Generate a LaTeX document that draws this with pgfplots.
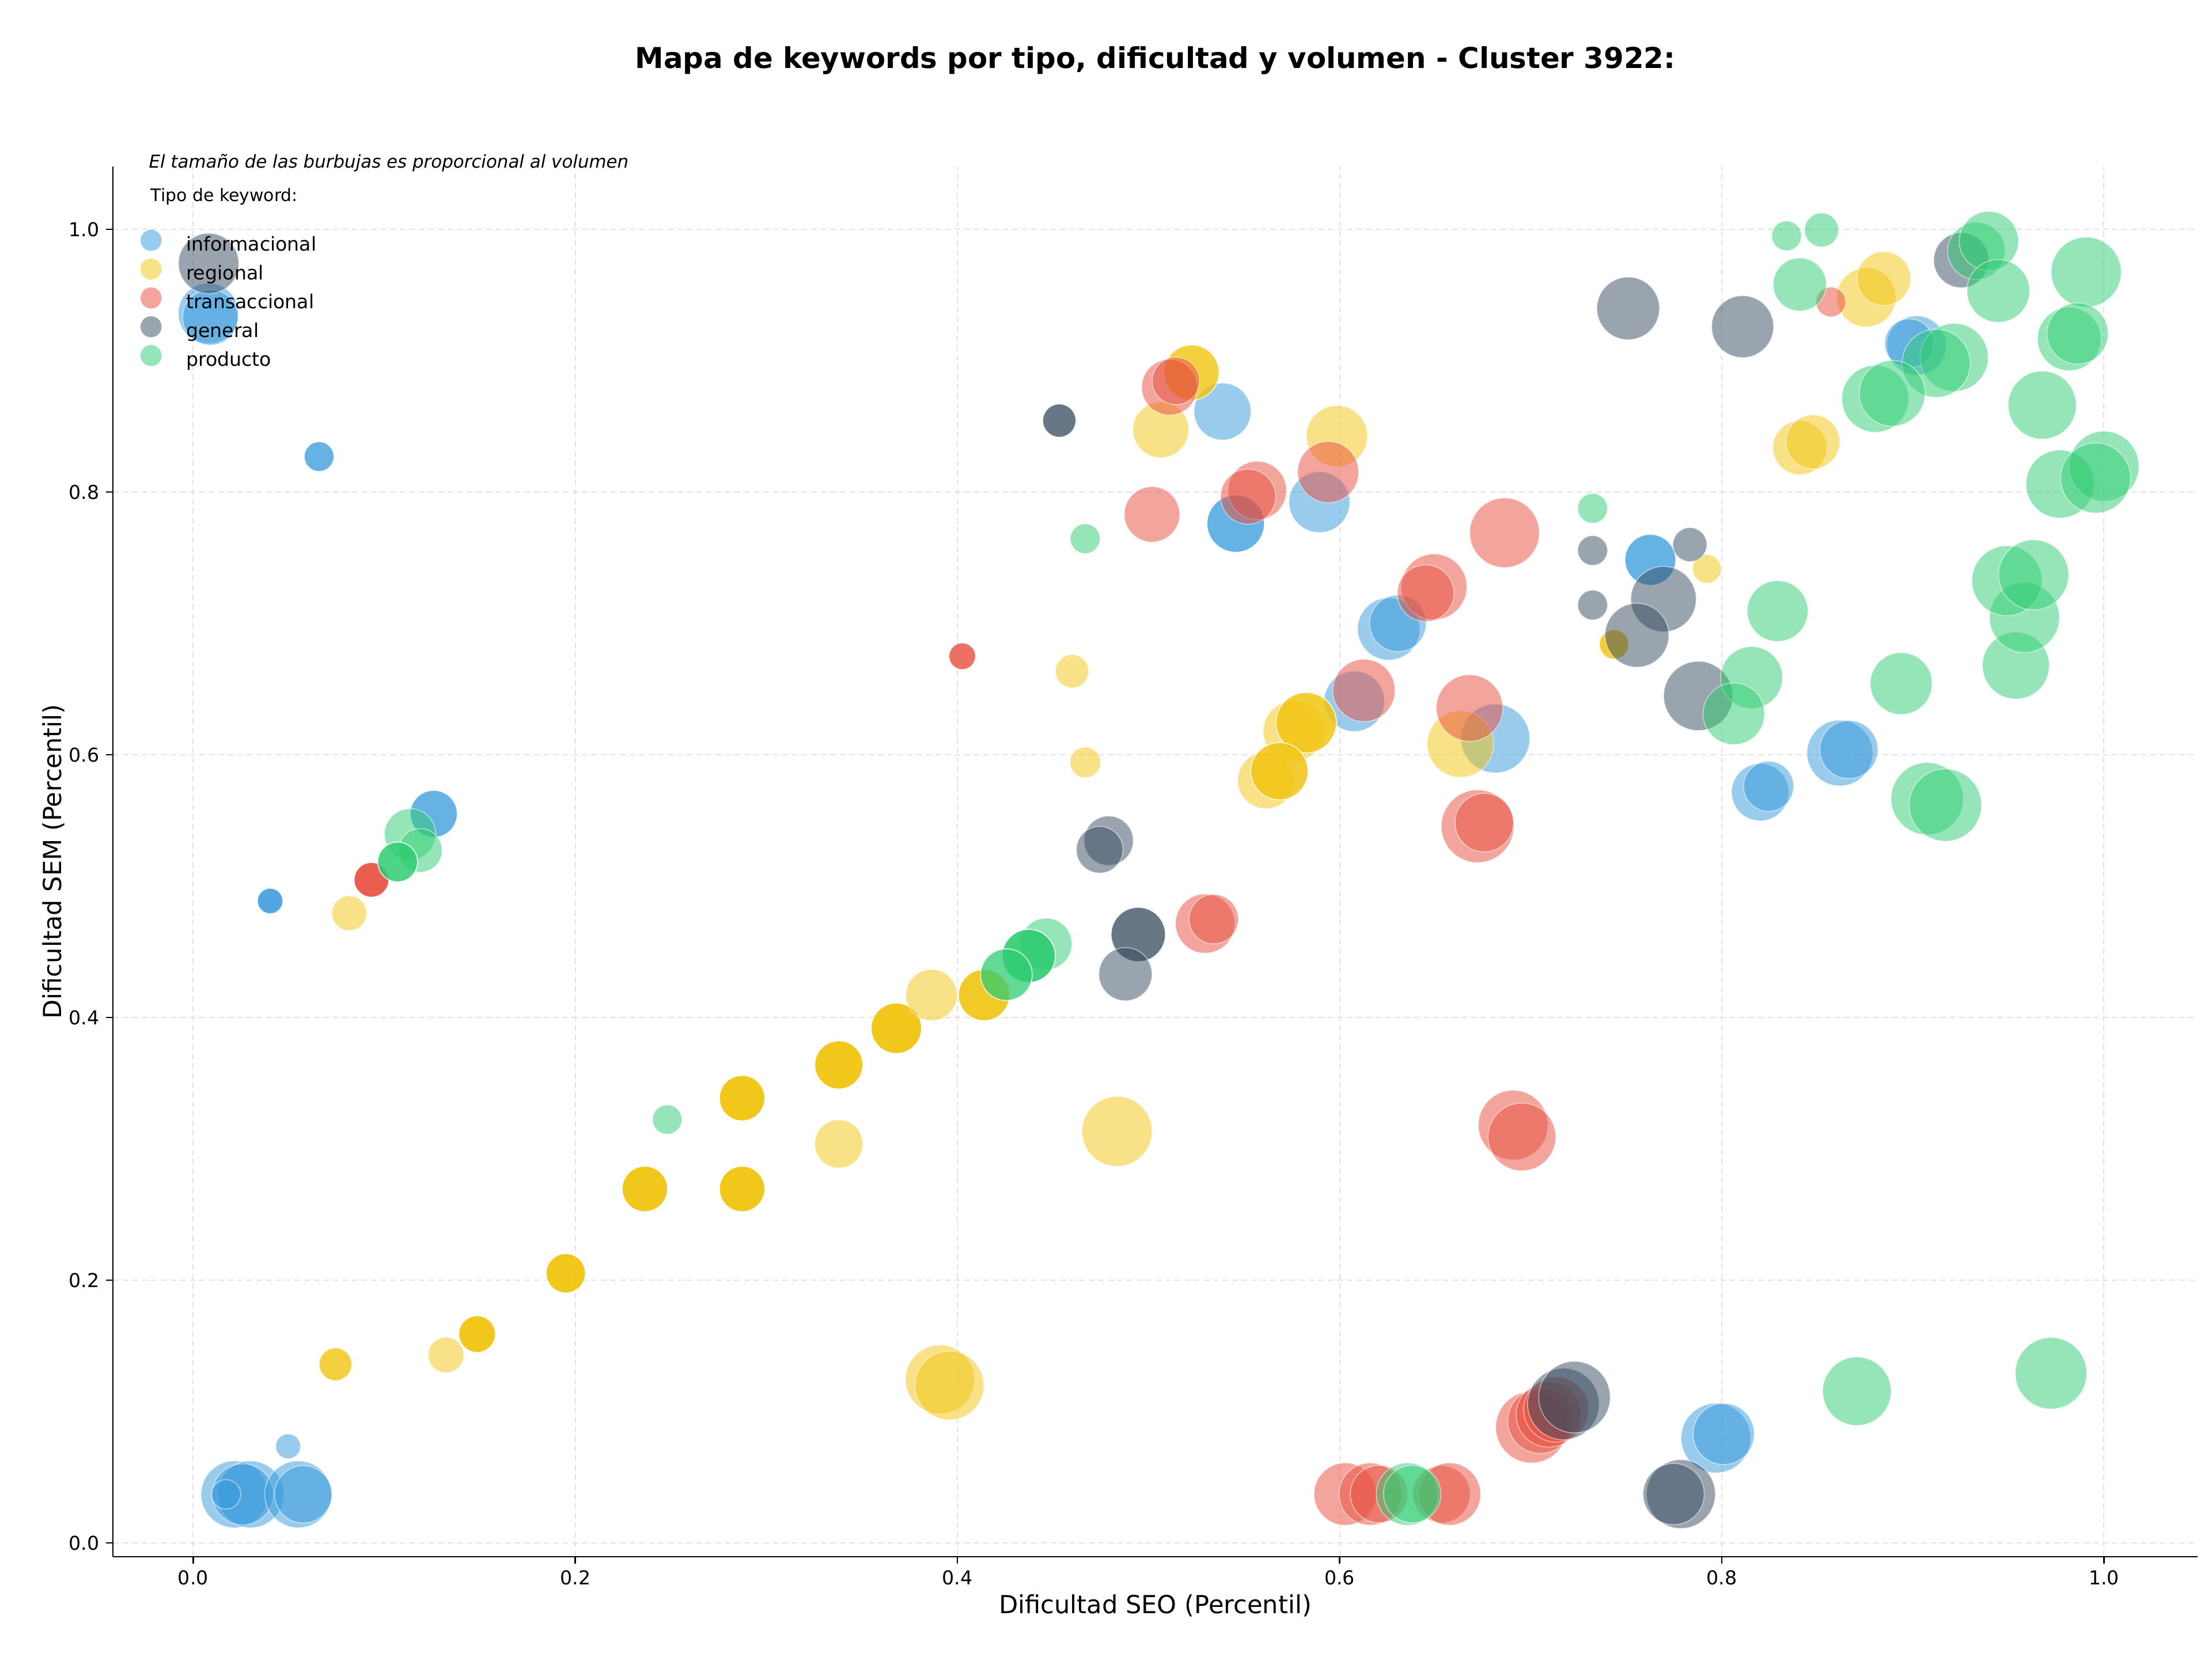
\documentclass[border=0pt]{standalone}
\usepackage{fontspec}
\setmainfont{DejaVu Sans}
\usepackage{pgfplots}
\usepackage{pgfplotstable}
\pgfplotsset{compat=1.18}
\definecolor{cInfo}{HTML}{3498DB}
\definecolor{cReg}{HTML}{F1C40F}
\definecolor{cTra}{HTML}{E74C3C}
\definecolor{cGen}{HTML}{34495E}
\definecolor{cPro}{HTML}{2ECC71}
\definecolor{cGrid}{RGB}{226,226,226}

\pgfplotstableread{
x y r a
0.0216 0.037 17.5 0.5
0.0300 0.037 17.5 0.5
0.0260 0.037 16 0.5
0.0550 0.037 17.5 0.5
0.0576 0.037 15 0.5
0.0172 0.037 7.7 0.5
0.0497 0.0736 6.5 0.5
0.0080 0.936 15.8 0.5
0.0090 0.933 14.5 0.5
0.0659 0.827 7.8 0.75
0.0403 0.4887 6.7 0.85
0.1259 0.555 12.3 0.75
0.5387 0.8613 14.9 0.5
0.5456 0.776 15 0.75
0.5894 0.7923 15.9 0.5
0.6257 0.6958 16.3 0.5
0.6305 0.700 14.8 0.5
0.6077 0.6407 15.8 0.5
0.6815 0.6124 18 0.5
0.7626 0.7484 13.3 0.75
0.9019 0.9116 15.5 0.5
0.8981 0.9132 12.8 0.5
0.8201 0.5715 15 0.5
0.8245 0.576 13.1 0.5
0.8618 0.6013 17.2 0.5
0.8665 0.604 15.2 0.5
0.7969 0.0798 18.2 0.5
0.8010 0.083 16 0.5
}\tInfo

\pgfplotstableread{
x y r a
0.0817 0.4794 9.1 0.5
0.0745 0.136 8.6 0.8
0.1323 0.1431 9.3 0.5
0.1486 0.159 9.6 0.95
0.1950 0.2053 10.3 0.95
0.2364 0.2695 11.9 0.95
0.2873 0.2695 11.9 0.95
0.2873 0.3386 11.9 0.95
0.3379 0.3038 12.6 0.5
0.3379 0.3639 12.6 0.95
0.3680 0.3918 13.2 0.95
0.3864 0.4171 13.4 0.5
0.4139 0.4171 13.4 0.9
0.4835 0.3133 18.3 0.5
0.3908 0.1245 18 0.5
0.3958 0.1199 18 0.5
0.4669 0.5942 8 0.5
0.4600 0.6636 8.7 0.5
0.5064 0.8474 14.6 0.5
0.5225 0.8910 14.4 0.8
0.5986 0.8426 16 0.5
0.5758 0.618 15.8 0.5
0.5825 0.6244 15.8 0.85
0.5614 0.5805 14.8 0.5
0.5685 0.5875 15 0.85
0.6632 0.6082 17.4 0.5
0.7436 0.684 7.7 0.85
0.7922 0.7415 7.5 0.5
0.8408 0.8337 14.1 0.5
0.8477 0.8382 14.1 0.5
0.8756 0.9482 15.5 0.5
0.8848 0.9625 14.1 0.5
}\tReg

\pgfplotstableread{
x y r a
0.0933 0.5048 9.1 0.9
0.4025 0.675 7 0.8
0.5018 0.783 14.5 0.5
0.5110 0.8798 14.6 0.5
0.5143 0.8846 12.4 0.5
0.5569 0.8012 15.3 0.5
0.5521 0.7965 14.4 0.5
0.5940 0.8152 16 0.5
0.6863 0.769 18.2 0.5
0.6494 0.7279 17.2 0.5
0.6450 0.7230 14.8 0.5
0.6127 0.649 16.3 0.5
0.6680 0.6356 17.4 0.5
0.6722 0.5456 19 0.5
0.6757 0.5484 15.3 0.5
0.5296 0.4715 15.5 0.5
0.5341 0.4749 12.9 0.5
0.8571 0.9447 7.8 0.5
0.6908 0.3181 18.2 0.5
0.6954 0.3091 17.7 0.5
0.6029 0.0372 16.3 0.5
0.6160 0.0372 16.3 0.5
0.6206 0.0372 15 0.5
0.6533 0.0372 15 0.5
0.6575 0.0372 16.3 0.5
0.7004 0.0881 18.7 0.5
0.7050 0.0929 17 0.5
0.7094 0.0977 17 0.5
0.7133 0.1016 17 0.5
}\tTra

\pgfplotstableread{
x y r a
0.0081 0.974 15.8 0.5
0.4533 0.8544 8.7 0.75
0.4791 0.5346 12.9 0.5
0.4744 0.5277 12.2 0.5
0.4946 0.4632 14.2 0.75
0.4879 0.4330 13.9 0.5
0.7510 0.9398 16.4 0.5
0.8109 0.9259 16.2 0.5
0.7324 0.7555 7.8 0.5
0.7833 0.7600 8.9 0.5
0.7324 0.7140 7.8 0.5
0.7695 0.7185 17.1 0.5
0.7556 0.6910 16.7 0.5
0.7877 0.6448 18.1 0.5
0.9253 0.9765 14.4 0.5
0.7786 0.0372 18 0.5
0.7748 0.0372 16 0.5
0.7171 0.1058 18.7 0.5
0.7229 0.1110 18.7 0.5
}\tGen

\pgfplotstableread{
x y r a
0.1135 0.5395 13.4 0.5
0.1189 0.5272 11.4 0.5
0.1070 0.5184 10.4 0.85
0.2481 0.3223 7.7 0.5
0.4464 0.4560 13.5 0.5
0.4373 0.4469 13.9 0.9
0.4256 0.4326 13.5 0.75
0.4668 0.7645 7.8 0.5
0.7324 0.7876 7.8 0.5
0.8339 0.9950 7.8 0.5
0.8522 0.9995 8.9 0.5
0.8408 0.9580 13.9 0.5
0.9332 0.9836 15 0.5
0.9398 0.9911 15.5 0.5
0.9447 0.9531 16.4 0.5
0.9907 0.9674 18.3 0.5
0.9818 0.9165 16.6 0.5
0.9862 0.9207 16 0.5
0.9677 0.8662 17.8 0.5
0.9216 0.9025 17.8 0.5
0.9122 0.8980 17.8 0.5
0.8803 0.8710 17.5 0.5
0.8892 0.8752 17.2 0.5
0.9770 0.8061 17.8 0.5
1.0000 0.8197 18.3 0.5
0.9956 0.8107 18.3 0.5
0.8292 0.7094 15.9 0.5
0.8156 0.6588 16.2 0.5
0.8063 0.6312 16.1 0.5
0.8939 0.6542 16.2 0.5
0.9075 0.5666 18.9 0.5
0.9170 0.5617 18.9 0.5
0.9539 0.6679 17.5 0.5
0.9584 0.7045 18.3 0.5
0.9492 0.7325 18.3 0.5
0.9632 0.7370 18.3 0.5
0.8707 0.1155 17.9 0.5
0.9723 0.1292 18.7 0.5
0.6355 0.0372 16.3 0.5
0.6380 0.0372 15 0.5
}\tPro

\pgfplotsset{
  bub/.style={
    scatter, only marks, mark=*, forget plot,
    visualization depends on={\thisrow{r} \as \radv},
    visualization depends on={\thisrow{a} \as \alphav},
    scatter/use mapped color={draw=white, fill=#1},
    scatter/@pre marker code/.append style={/tikz/mark size=\radv pt},
    scatter/@pre marker code/.append code={\pgfsetfillopacity{\alphav}\pgfsetstrokeopacity{\alphav}},
    mark options={line width=0.5pt},
  }
}

\begin{document}
\begin{tikzpicture}
\path[use as bounding box] (-0.8167in,-0.754in) rectangle (15.1833in,11.2585in);
\begin{axis}[
  at={(0,0)}, anchor=south west,
  scale only axis, width=15.079in, height=10.054in,
  xmin=-0.042, xmax=1.049, ymin=-0.0105, ymax=1.0478,
  clip mode=individual,
  axis x line*=bottom, axis y line*=left,
  axis line style={line width=0.8pt, black},
  tick align=outside, major tick length=3.5pt,
  major tick style={line width=0.8pt, black},
  xtick={0,0.2,0.4,0.6,0.8,1.0}, ytick={0,0.2,0.4,0.6,0.8,1.0},
  /pgf/number format/assume math mode=true,
  tick label style={font=\fontsize{10}{12}\selectfont},
  xticklabel style={/pgf/number format/.cd, fixed, fixed zerofill, precision=1},
  yticklabel style={/pgf/number format/.cd, fixed, fixed zerofill, precision=1},
  grid=major,
  grid style={dash pattern=on 3pt off 2pt, line width=0.6pt, cGrid},
  xlabel={Dificultad SEO (Percentil)},
  ylabel={Dificultad SEM (Percentil)},
  xlabel style={at={(axis description cs:0.5,-0.03523)}, anchor=center, font=\fontsize{13}{15}\selectfont},
  ylabel style={at={(axis description cs:-0.02846,0.5)}, anchor=center, font=\fontsize{13}{15}\selectfont},
  title={\bfseries Mapa de keywords por tipo, dificultad y volumen - Cluster 3922:},
  title style={at={(axis description cs:0.5,1.068)}, anchor=center, font=\fontsize{15}{18}\selectfont},
  legend image code/.code={\path[#1] (5.5pt,2.8pt) circle (5.5pt);},
  legend cell align=left,
  legend style={at={(axis description cs:0.01326,0.9545)}, anchor=north west,
    draw=none, fill=none, inner sep=0pt, outer sep=0pt,
    font=\fontsize{10}{12}\selectfont, row sep=1.96pt,
    nodes={inner sep=0pt, text height=7.6pt, text depth=2pt},
    /tikz/every odd column/.append style={column sep=12.8pt}},
]
\addplot[bub=cInfo] table[x=x,y=y] {\tInfo};
\addplot[bub=cReg] table[x=x,y=y] {\tReg};
\addplot[bub=cTra] table[x=x,y=y] {\tTra};
\addplot[bub=cGen] table[x=x,y=y] {\tGen};
\addplot[bub=cPro] table[x=x,y=y] {\tPro};

\addlegendimage{fill=cInfo, fill opacity=0.5, draw=none}
\addlegendentry{informacional}
\addlegendimage{fill=cReg, fill opacity=0.5, draw=none}
\addlegendentry{regional}
\addlegendimage{fill=cTra, fill opacity=0.5, draw=none}
\addlegendentry{transaccional}
\addlegendimage{fill=cGen, fill opacity=0.5, draw=none}
\addlegendentry{general}
\addlegendimage{fill=cPro, fill opacity=0.5, draw=none}
\addlegendentry{producto}

\node[anchor=base west, font=\fontsize{9.3}{11}\selectfont\itshape, inner sep=0pt] at (rel axis cs:0.0171,1) [yshift=-0.7pt] {El tamaño de las burbujas es proporcional al volumen};
\node[anchor=base west, font=\fontsize{9}{11}\selectfont, inner sep=0pt] at (rel axis cs:0.018,1) [yshift=-18.3pt] {Tipo de keyword:};
\end{axis}
\end{tikzpicture}
\end{document}
